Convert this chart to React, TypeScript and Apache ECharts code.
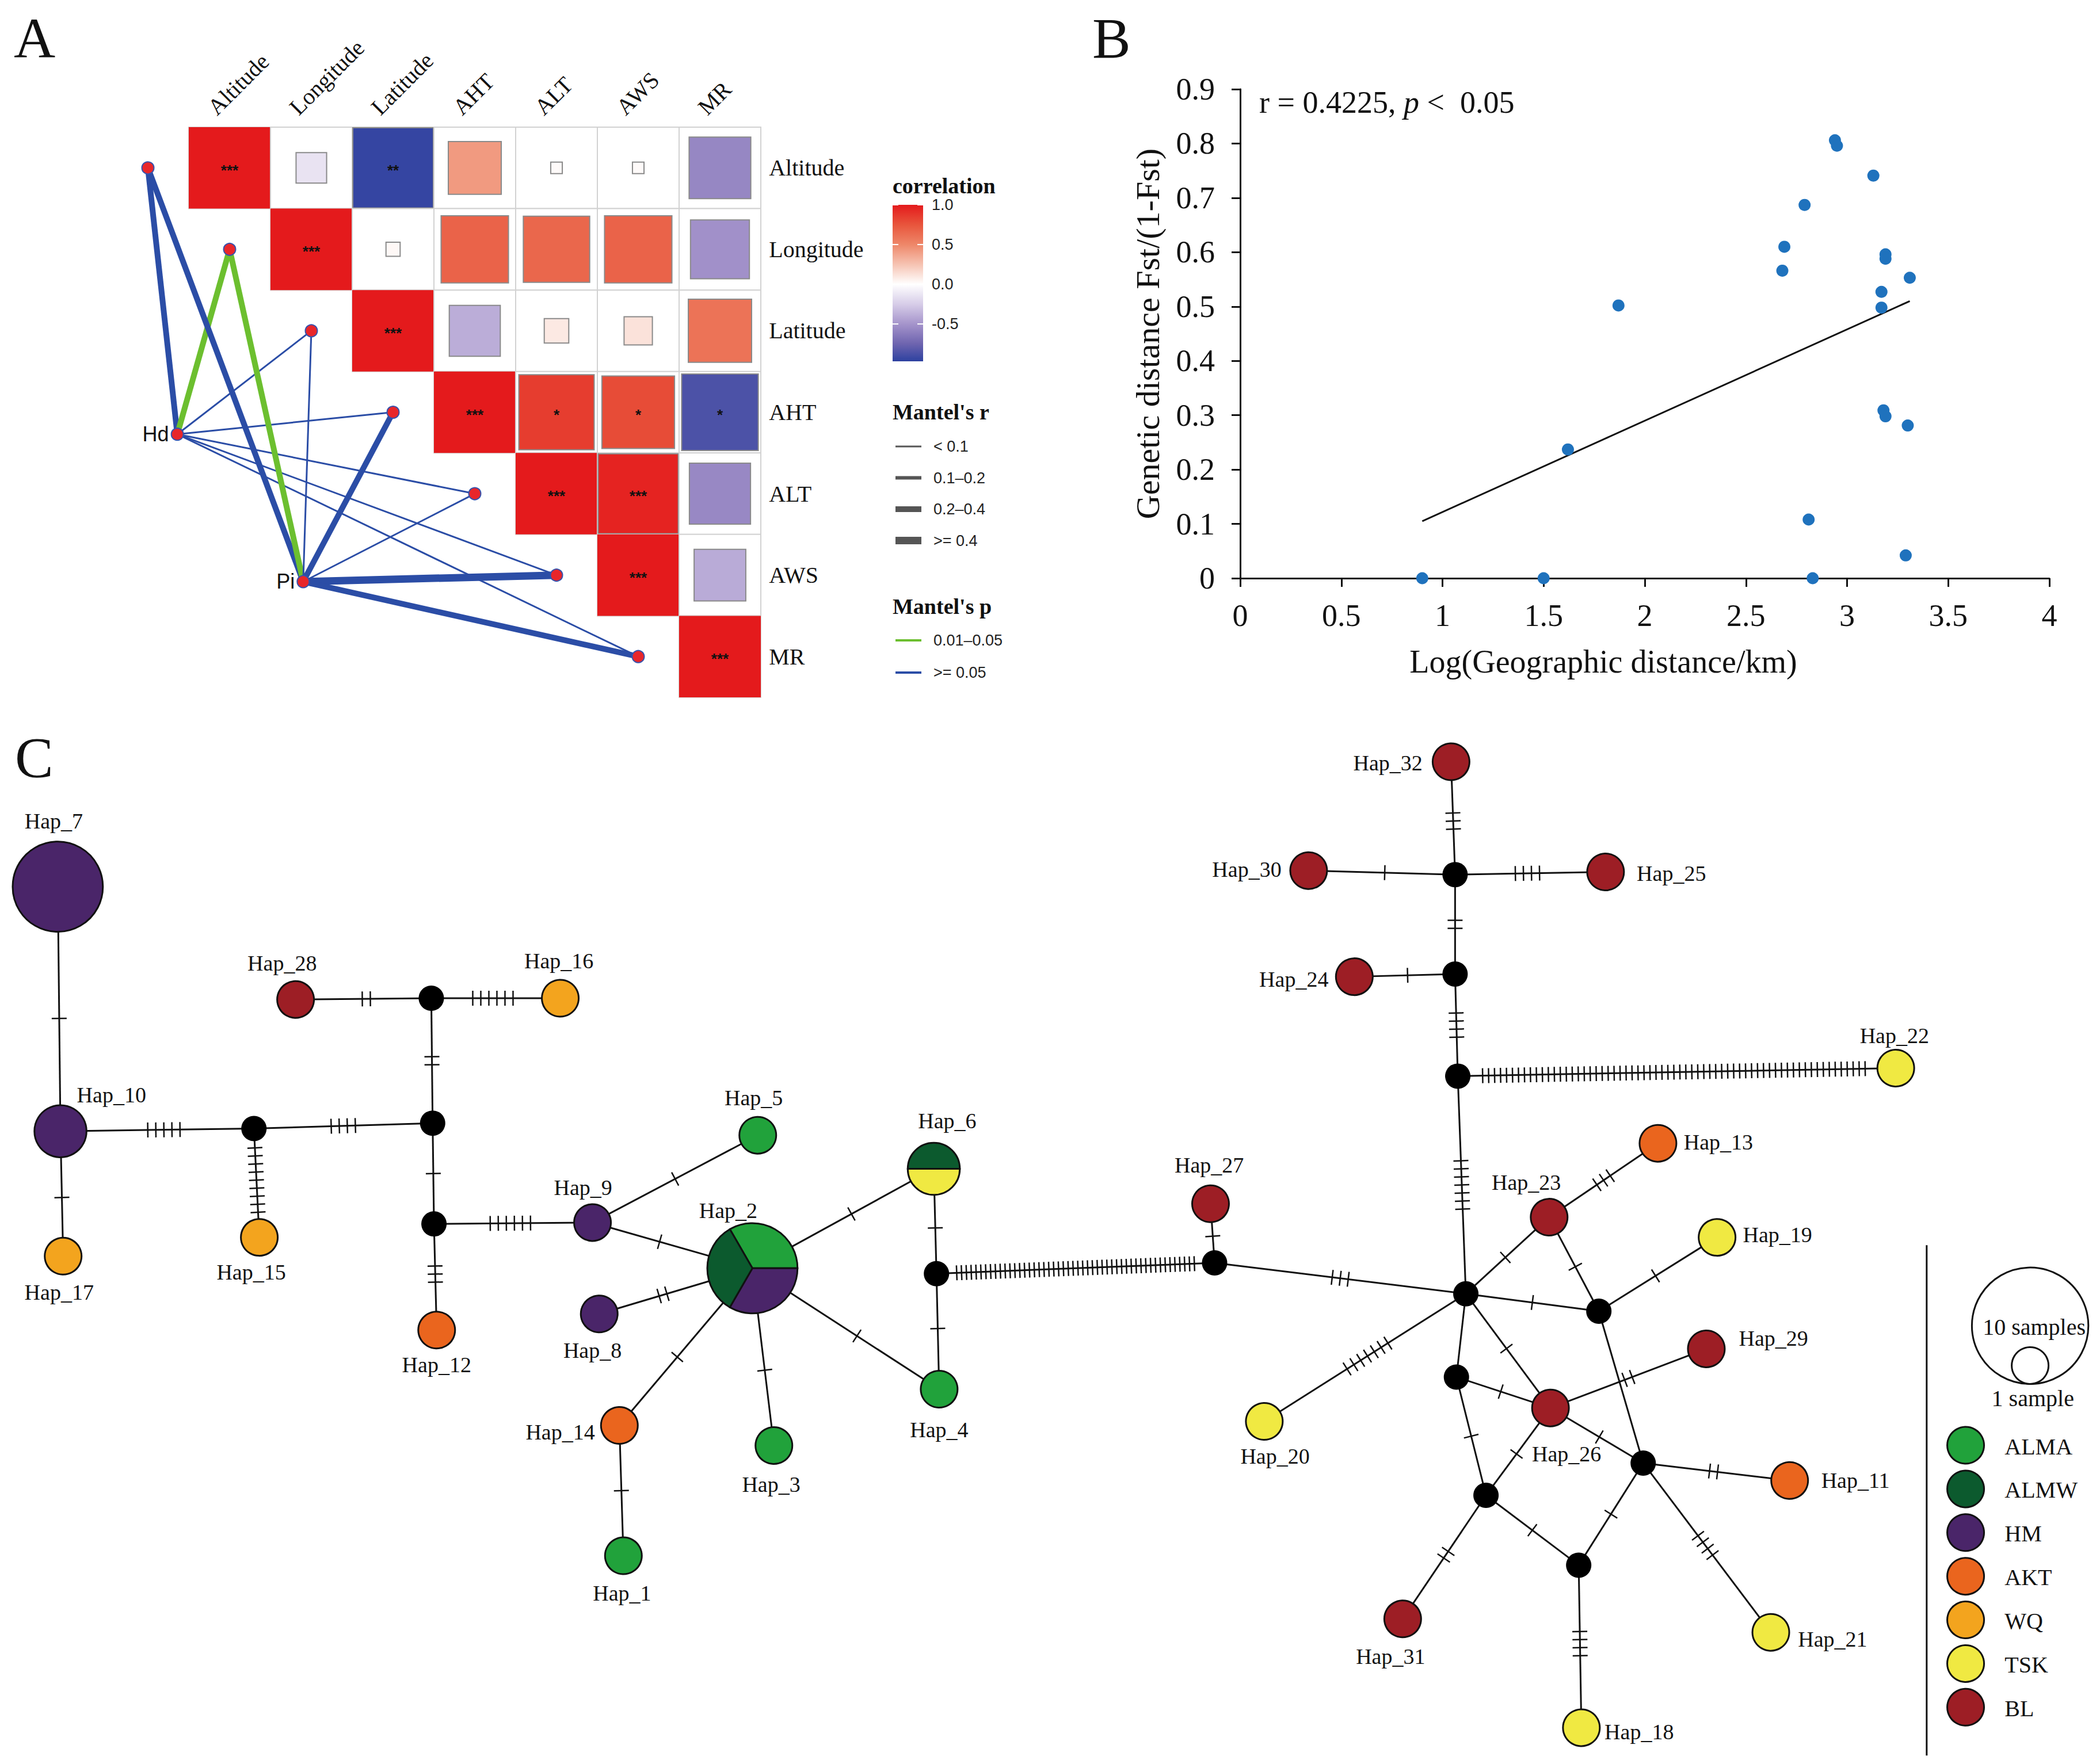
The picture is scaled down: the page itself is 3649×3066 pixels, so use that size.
import React, { useEffect, useRef } from "react";
import * as echarts from "echarts";

const W = 3649;
const H = 3066;
const K = W / 1563; // network layout unit -> px
const SERIF = "'Liberation Serif', 'Times New Roman', serif";
const SANS = "'Liberation Sans', Arial, sans-serif";

// ---------------- Panel A data ----------------
const envVars = ["Altitude", "Longitude", "Latitude", "AHT", "ALT", "AWS", "MR"];
const corrAltitude = [1.0, -0.14, -0.97, 0.42, 0.02, 0.02, -0.57];
const corrLongitude = [null, 1.0, 0.03, 0.68, 0.66, 0.68, -0.52];
const corrLatitude = [null, null, 1.0, -0.39, 0.09, 0.12, 0.6];
const corrAHT = [null, null, null, 1.0, 0.85, 0.79, -0.88];
const corrALT = [null, null, null, null, 1.0, 0.96, -0.56];
const corrAWS = [null, null, null, null, null, 1.0, -0.4];
const corrMR = [null, null, null, null, null, null, 1.0];
const sigAltitude = ["***", "", "**", "", "", "", ""];
const sigLongitude = ["", "***", "", "", "", "", ""];
const sigLatitude = ["", "", "***", "", "", "", ""];
const sigAHT = ["", "", "", "***", "*", "*", "*"];
const sigALT = ["", "", "", "", "***", "***", ""];
const sigAWS = ["", "", "", "", "", "***", ""];
const sigMR = ["", "", "", "", "", "", "***"];
const corrRows = [corrAltitude, corrLongitude, corrLatitude, corrAHT, corrALT, corrAWS, corrMR];
const sigRows = [sigAltitude, sigLongitude, sigLatitude, sigAHT, sigALT, sigAWS, sigMR];

const mantelSpecies = ["Hd", "Pi"];
const mantelSpX = [-0.14, 1.4];
const mantelSpY = [3.77, 5.58];
const mantelHdR = [0.25, 0.3, 0.05, 0.06, 0.07, 0.05, 0.05];
const mantelHdP = [0.2, 0.03, 0.5, 0.3, 0.4, 0.5, 0.6];
const mantelPiR = [0.3, 0.3, 0.05, 0.3, 0.05, 0.45, 0.28];
const mantelPiP = [0.1, 0.03, 0.5, 0.2, 0.5, 0.1, 0.1];

const corrTicks = [1.0, 0.5, 0.0, -0.5];
const corrMin = -0.97;
const corrMax = 1.0;
const mantelRLabels = ["< 0.1", "0.1\u20130.2", "0.2\u20130.4", ">= 0.4"];
const mantelPLabels = ["0.01\u20130.05", ">= 0.05"];

// ---------------- Panel B data ----------------
const geoX = [0.9, 1.5, 2.83, 1.62, 1.87, 2.68, 2.69, 2.79, 2.94, 2.95, 3.13, 3.19, 3.19, 3.17, 3.17, 3.31, 3.18, 3.19, 3.3, 2.81, 3.29];
const geoY = [0, 0, 0, 0.237, 0.502, 0.566, 0.61, 0.687, 0.806, 0.796, 0.741, 0.596, 0.588, 0.527, 0.498, 0.553, 0.309, 0.298, 0.281, 0.108, 0.042];
const fitX = [0.9, 3.31];
const fitY = [0.105, 0.51];

// ---------------- Panel C data ----------------
const popNames = ["ALMA", "ALMW", "HM", "AKT", "WQ", "TSK", "BL"];
const hapNames = Array.from({ length: 32 }, (_, i) => "Hap_" + (i + 1));
const hapX = [464, 560, 576, 699, 564, 695, 43, 446, 441, 45, 1332, 325, 1234, 461, 193, 417, 47, 1177, 1278, 941, 1318, 1411, 1153, 1008, 1195, 1154, 901, 220, 1270, 974, 1044, 1080];
const hapY = [1158, 944, 1076, 1034, 845, 870, 660, 978, 910, 842, 1102, 990, 851, 1061, 921, 743, 935, 1286, 921, 1058, 1215, 795, 906, 727, 649, 1048, 896, 744, 1004, 648, 1205, 567];
const hapPop = ["ALMA", "MIX", "ALMA", "ALMA", "ALMA", "MIX", "HM", "HM", "HM", "HM", "AKT", "AKT", "AKT", "AKT", "WQ", "WQ", "WQ", "TSK", "TSK", "TSK", "TSK", "TSK", "BL", "BL", "BL", "BL", "BL", "BL", "BL", "BL", "BL", "BL"];
const hapSamples = [1, 6, 1, 1, 1, 2, 6, 1, 1, 2, 1, 1, 1, 1, 1, 1, 1, 1, 1, 1, 1, 1, 1, 1, 1, 1, 1, 1, 1, 1, 1, 1];
const hap2Mix = [["ALMA", 2], ["HM", 2], ["ALMW", 2]];
const hap6Mix = [["ALMW", 1], ["TSK", 1]];
const medNames = ["M1", "M2", "M3", "M4", "M5", "M6", "M7", "M8", "M9", "M10", "M11", "M12", "M13", "M14", "M15"];
const medX = [189, 322, 321, 323, 697, 904, 1083, 1083, 1085, 1091, 1190, 1084, 1223, 1106, 1175];
const medY = [840, 836, 743, 911, 948, 940, 651, 725, 801, 963, 976, 1025, 1089, 1113, 1165];
const edgeFrom = ["Hap_7", "Hap_10", "Hap_10", "M1", "M1", "M2", "M3", "M3", "M2", "M4", "M4", "Hap_9", "Hap_9", "Hap_8", "Hap_14", "Hap_14", "Hap_3", "Hap_4", "Hap_6", "Hap_6", "M5", "M5", "M6", "M6", "M10", "M9", "M9", "M8", "M8", "M7", "M7", "M7", "M10", "Hap_23", "Hap_23", "M10", "M11", "M11", "M10", "M10", "M10", "M12", "M12", "Hap_26", "Hap_26", "Hap_26", "M13", "M13", "M13", "M14", "M14", "M15"];
const edgeTo = ["Hap_10", "Hap_17", "M1", "Hap_15", "M2", "M3", "Hap_28", "Hap_16", "M4", "Hap_12", "Hap_9", "Hap_5", "Hap_2", "Hap_2", "Hap_2", "Hap_1", "Hap_2", "Hap_2", "Hap_2", "M5", "Hap_4", "M6", "Hap_27", "M10", "M9", "Hap_22", "M8", "Hap_24", "M7", "Hap_30", "Hap_25", "Hap_32", "Hap_23", "Hap_13", "M11", "M11", "Hap_19", "M13", "Hap_26", "M12", "Hap_20", "Hap_26", "M14", "Hap_29", "M13", "M14", "Hap_11", "M15", "Hap_21", "M15", "Hap_31", "Hap_18"];
const edgeMut = [1, 1, 5, 9, 4, 2, 2, 6, 1, 3, 6, 1, 1, 2, 1, 1, 1, 1, 1, 1, 1, 50, 1, 3, 7, 65, 4, 1, 2, 1, 4, 3, 1, 3, 1, 1, 1, 0, 1, 0, 7, 1, 1, 2, 1, 1, 2, 1, 4, 1, 2, 4];
const legendSamples = [10, 1];

// ---------------- styles ----------------
const popColors: Record<string, string> = {
  ALMA: "#21A23B", ALMW: "#0C5A2E", HM: "#4A2569", AKT: "#EA651E", WQ: "#F3A41E", TSK: "#F0E942", BL: "#9D1E25",
};
const pieStart: Record<string, number> = { Hap_2: -120, Hap_6: -180 };
const labelOffset: Record<string, [number, number]> = {
  Hap_7: [-3, -49], Hap_10: [38, -27], Hap_17: [-3, 27], Hap_15: [-6, 26], Hap_28: [-10, -27], Hap_16: [-1, -28],
  Hap_12: [0, 26], Hap_9: [-7, -26], Hap_8: [-5, 27], Hap_5: [-3, -28], Hap_2: [-18, -43], Hap_6: [10, -36],
  Hap_14: [-44, 5], Hap_1: [-1, 28], Hap_3: [-2, 29], Hap_4: [0, 30], Hap_27: [-1, -29], Hap_32: [-47, 1],
  Hap_30: [-46, -1], Hap_25: [49, 1], Hap_24: [-45, 2], Hap_22: [-1, -24], Hap_13: [45, -1], Hap_23: [-17, -26],
  Hap_19: [45, -2], Hap_29: [50, -8], Hap_26: [12, 34], Hap_20: [8, 26], Hap_11: [49, 0], Hap_31: [-9, 28],
  Hap_21: [46, 5], Hap_18: [43, 3],
};
const R1 = 32; // px radius for one sample
const MED_R = 22;

const corrStops: [number, number[]][] = [
  [-1, [45, 65, 160]], [-0.75, [110, 100, 175]], [-0.5, [165, 148, 203]], [-0.25, [215, 205, 232]],
  [0, [255, 255, 255]], [0.25, [246, 195, 178]], [0.5, [238, 135, 105]], [0.75, [232, 85, 60]], [1, [228, 26, 28]],
];
function corrColor(v: number) {
  for (let i = 0; i < corrStops.length - 1; i++) {
    const [a, ca] = corrStops[i];
    const [b, cb] = corrStops[i + 1];
    if (v >= a && v <= b) {
      const t = (v - a) / (b - a);
      const c = ca.map((x, k) => Math.round(x + (cb[k] - x) * t));
      return `rgb(${c[0]},${c[1]},${c[2]})`;
    }
  }
  return v < 0 ? "rgb(45,65,160)" : "rgb(228,26,28)";
}
const rWidths = [3, 6, 10, 13];
const mantelWidth = (r: number) => (r < 0.1 ? rWidths[0] : r < 0.2 ? rWidths[1] : r < 0.4 ? rWidths[2] : rWidths[3]);
const mantelColor = (p: number) => (p < 0.05 ? "#6CBF2F" : "#2B4DA6");

function buildOption() {
  // ----- Panel A -----
  const heatCells: { i: number; j: number; r: number; sig: string }[] = [];
  corrRows.forEach((row, i) =>
    row.forEach((r, j) => {
      if (r !== null) heatCells.push({ i, j, r: r as number, sig: sigRows[i][j] });
    })
  );
  const mantelLinks: any[] = [];
  mantelSpecies.forEach((sp, s) => {
    const rs = s === 0 ? mantelHdR : mantelPiR;
    const ps = s === 0 ? mantelHdP : mantelPiP;
    envVars.forEach((_, i) => {
      mantelLinks.push({
        coords: [[mantelSpX[s], mantelSpY[s]], [i - 0.5, i + 0.5]],
        lineStyle: { color: mantelColor(ps[i]), width: mantelWidth(rs[i]), opacity: 1, curveness: 0 },
      });
    });
  });
  const mantelDots: any[] = envVars.map((_, i) => ({ value: [i - 0.5, i + 0.5] }));
  mantelSpecies.forEach((sp, s) =>
    mantelDots.push({
      value: [mantelSpX[s], mantelSpY[s]],
      label: { show: true, position: "left", distance: 3, formatter: sp, fontFamily: SANS, fontSize: 36, color: "#111" },
    })
  );

  // ----- Panel C -----
  const pos: Record<string, [number, number]> = {};
  const radius: Record<string, number> = {};
  hapNames.forEach((n, i) => {
    pos[n] = [hapX[i], hapY[i]];
    radius[n] = R1 * Math.sqrt(hapSamples[i]);
  });
  medNames.forEach((n, i) => {
    pos[n] = [medX[i], medY[i]];
    radius[n] = MED_R;
  });

  // ----- graphics (legends, letters, annotation) -----
  const graphics: any[] = [];
  const txt = (x: number, y: number, text: string, font: string, align = "left", vAlign = "middle", fill = "#111") => ({
    type: "text", x, y, silent: true,
    style: { text, font, fill, align, verticalAlign: vAlign, textAlign: align, textVerticalAlign: vAlign },
  });
  graphics.push(txt(24, 66, "A", `100px ${SERIF}`));
  graphics.push(txt(1898, 66, "B", `100px ${SERIF}`));
  graphics.push(txt(26, 1316, "C", `100px ${SERIF}`));

  // colorbar
  const cbX = 1551, cbY = 356, cbW = 53, cbH = 272;
  const cy = (v: number) => cbY + ((corrMax - v) / (corrMax - corrMin)) * cbH;
  graphics.push(txt(cbX, 323, "correlation", `bold 38px ${SERIF}`));
  graphics.push({
    type: "rect", shape: { x: cbX, y: cbY, width: cbW, height: cbH }, silent: true,
    style: {
      fill: new echarts.graphic.LinearGradient(0, 0, 0, 1,
        corrStops.filter((s) => s[0] >= corrMin - 0.03).map((s) => ({
          offset: Math.max(0, Math.min(1, (corrMax - s[0]) / (corrMax - corrMin))),
          color: `rgb(${s[1][0]},${s[1][1]},${s[1][2]})`,
        })).sort((a, b) => a.offset - b.offset)),
    },
  });
  corrTicks.forEach((v) => {
    const y = cy(v);
    graphics.push({ type: "line", shape: { x1: cbX, y1: y, x2: cbX + 10, y2: y }, style: { stroke: "#fff", lineWidth: 2 }, silent: true });
    graphics.push({ type: "line", shape: { x1: cbX + cbW - 10, y1: y, x2: cbX + cbW, y2: y }, style: { stroke: "#fff", lineWidth: 2 }, silent: true });
    graphics.push(txt(cbX + 68, y, v.toFixed(1), `27px ${SANS}`, "left", "middle", "#222"));
  });
  // Mantel's r
  graphics.push(txt(cbX, 716, "Mantel's r", `bold 38px ${SERIF}`));
  mantelRLabels.forEach((lab, k) => {
    const y = 776 + k * 54.5;
    graphics.push({ type: "line", shape: { x1: cbX + 5, y1: y, x2: cbX + 50, y2: y }, style: { stroke: "#555", lineWidth: rWidths[k] }, silent: true });
    graphics.push(txt(cbX + 71, y, lab, `27px ${SANS}`, "left", "middle", "#222"));
  });
  graphics.push(txt(cbX, 1054, "Mantel's p", `bold 38px ${SERIF}`));
  const pCols = ["#6CBF2F", "#2B4DA6"];
  mantelPLabels.forEach((lab, k) => {
    const y = 1113 + k * 56;
    graphics.push({ type: "line", shape: { x1: cbX + 5, y1: y, x2: cbX + 50, y2: y }, style: { stroke: pCols[k], lineWidth: 4 }, silent: true });
    graphics.push(txt(cbX + 71, y, lab, `27px ${SANS}`, "left", "middle", "#222"));
  });

  // Panel B annotation & x-axis title
  graphics.push({
    type: "text", x: 2188, y: 178, silent: true,
    style: {
      text: "{a|r = 0.4225, }{b|p}{a| <  0.05}", verticalAlign: "middle", textVerticalAlign: "middle",
      rich: {
        a: { fontFamily: SERIF, fontSize: 54, fill: "#111", color: "#111" },
        b: { fontFamily: SERIF, fontSize: 54, fontStyle: "italic", fill: "#111", color: "#111" },
      },
    },
  });
  graphics.push(txt(2786, 1150, "Log(Geographic distance/km)", `56px ${SERIF}`, "center", "middle"));

  // Panel C legend
  graphics.push({ type: "line", shape: { x1: 1434 * K, y1: 927 * K, x2: 1434 * K, y2: 1307 * K }, style: { stroke: "#111", lineWidth: 3 }, silent: true });
  const bigR = R1 * Math.sqrt(legendSamples[0]);
  const smallR = R1 * Math.sqrt(legendSamples[1]);
  const lcx = 1511 * K;
  const bigCy = 987 * K;
  graphics.push({ type: "circle", shape: { cx: lcx, cy: bigCy, r: bigR }, style: { fill: "#fff", stroke: "#111", lineWidth: 3 }, silent: true });
  graphics.push({ type: "circle", shape: { cx: lcx, cy: bigCy + bigR - smallR, r: smallR }, style: { fill: "#fff", stroke: "#111", lineWidth: 3 }, silent: true });
  graphics.push(txt(1514 * K, 988 * K, legendSamples[0] + " samples", `40px ${SERIF}`, "center"));
  graphics.push(txt(1513 * K, 1041 * K, legendSamples[1] + " sample", `40px ${SERIF}`, "center"));
  popNames.forEach((p, k) => {
    const y = (1076 + k * 32.5) * K;
    graphics.push({ type: "circle", shape: { cx: 1463 * K, cy: y, r: R1 }, style: { fill: popColors[p], stroke: "#111", lineWidth: 3 }, silent: true });
    graphics.push(txt(1492 * K, y + 2, p, `40px ${SERIF}`));
  });

  const hiddenX = (gridIndex: number, min: number, max: number) => ({ type: "value", gridIndex, min, max, show: false });
  const hiddenY = (gridIndex: number, min: number, max: number) => ({ type: "value", gridIndex, min, max, show: false, inverse: true });

  const axisStyleB = {
    axisLine: { show: true, onZero: false, lineStyle: { color: "#111", width: 3 } },
    axisTick: { show: true, inside: false, length: 15, lineStyle: { color: "#111", width: 3 } },
    splitLine: { show: false },
  };

  return {
    animation: false,
    backgroundColor: "#fff",
    grid: [
      { left: 44, top: 221, width: 1278, height: 991 },
      { left: 2155, top: 155, width: 1406, height: 850 },
      { left: 0, top: 0, width: W, height: H },
    ],
    xAxis: [
      hiddenX(0, -2, 7),
      {
        type: "value", gridIndex: 1, min: 0, max: 4, interval: 0.5, ...axisStyleB,
        axisLabel: { margin: 38, fontFamily: SERIF, fontSize: 54, color: "#111", formatter: (v: number) => String(parseFloat(v.toFixed(1))) },
      },
      hiddenX(2, 0, 1563),
    ],
    yAxis: [
      hiddenY(0, 0, 7),
      {
        type: "value", gridIndex: 1, min: 0, max: 0.9, interval: 0.1, ...axisStyleB,
        axisLabel: { margin: 44, fontFamily: SERIF, fontSize: 54, color: "#111", formatter: (v: number) => String(parseFloat(v.toFixed(1))) },
        name: "Genetic distance Fst/(1-Fst)", nameLocation: "middle", nameGap: 132,
        nameTextStyle: { fontFamily: SERIF, fontSize: 58, color: "#111" },
      },
      hiddenY(2, 0, 1313),
    ],
    graphic: { elements: graphics },
    series: [
      // ----- A: heatmap cells -----
      {
        type: "custom", xAxisIndex: 0, yAxisIndex: 0, clip: false, z: 2, silent: true,
        data: heatCells.map((c) => [c.j, c.i, c.r]),
        renderItem: (params: any, api: any) => {
          const c = heatCells[params.dataIndex];
          const a = api.coord([c.j, c.i]);
          const b = api.coord([c.j + 1, c.i + 1]);
          const x0 = a[0], y0 = a[1], w = b[0] - a[0], h = b[1] - a[1];
          const f = Math.sqrt(Math.abs(c.r));
          const sw = w * f, sh = h * f;
          const children: any[] = [
            { type: "rect", shape: { x: x0, y: y0, width: w, height: h }, style: { fill: "#fff", stroke: "#d2d2d2", lineWidth: 2 } },
            {
              type: "rect", shape: { x: x0 + (w - sw) / 2, y: y0 + (h - sh) / 2, width: sw, height: sh },
              style: { fill: corrColor(c.r), stroke: Math.abs(c.r) >= 1 ? null : "#8a8a8a", lineWidth: 2 },
            },
          ];
          if (c.sig) {
            children.push({ type: "text", x: x0 + w / 2, y: y0 + h / 2 + 4, style: { text: c.sig, font: `bold 26px ${SANS}`, fill: "#111", align: "center", verticalAlign: "middle" } });
          }
          if (c.i === c.j) {
            const rl = api.coord([7.1, c.i + 0.5]);
            children.push({ type: "text", x: rl[0], y: rl[1], style: { text: envVars[c.i], font: `40px ${SERIF}`, fill: "#111", align: "left", verticalAlign: "middle" } });
            const cl = api.coord([c.i + 0.38, -0.1]);
            children.push({ type: "text", x: cl[0], y: cl[1], rotation: Math.PI / 4, style: { text: envVars[c.i], font: `40px ${SERIF}`, fill: "#111", align: "left", verticalAlign: "bottom" } });
          }
          return { type: "group", children };
        },
      },
      // ----- A: Mantel links -----
      {
        type: "lines", coordinateSystem: "cartesian2d", xAxisIndex: 0, yAxisIndex: 0, z: 3, silent: true,
        polyline: false, lineStyle: { opacity: 1 }, data: mantelLinks,
      },
      {
        type: "scatter", xAxisIndex: 0, yAxisIndex: 0, z: 4, silent: true, symbolSize: 21,
        itemStyle: { color: "#E8262A", borderColor: "#3553AE", borderWidth: 2, opacity: 1 },
        data: mantelDots,
      },
      // ----- B -----
      {
        type: "scatter", xAxisIndex: 1, yAxisIndex: 1, symbolSize: 21, z: 4,
        itemStyle: { color: "#1f72bd", opacity: 1 },
        data: geoX.map((x, i) => [x, geoY[i]]),
      },
      {
        type: "line", xAxisIndex: 1, yAxisIndex: 1, showSymbol: false, symbol: "none", z: 3,
        lineStyle: { color: "#111", width: 3 },
        data: fitX.map((x, i) => [x, fitY[i]]),
      },
      // ----- C: edges with mutation ticks -----
      {
        type: "custom", xAxisIndex: 2, yAxisIndex: 2, clip: false, z: 2, silent: true,
        data: edgeFrom.map((f, i) => [pos[f][0], pos[f][1], pos[edgeTo[i]][0], pos[edgeTo[i]][1], edgeMut[i]]),
        renderItem: (params: any, api: any) => {
          const i = params.dataIndex;
          const a = api.coord([api.value(0), api.value(1)]);
          const b = api.coord([api.value(2), api.value(3)]);
          const n = edgeMut[i];
          const dx = b[0] - a[0], dy = b[1] - a[1];
          const len = Math.hypot(dx, dy);
          const ux = dx / len, uy = dy / len;
          const px = -uy, py = ux;
          const ra = radius[edgeFrom[i]], rb = radius[edgeTo[i]];
          const usable = len - ra - rb;
          const mid = ra + usable / 2;
          const children: any[] = [
            { type: "line", shape: { x1: a[0], y1: a[1], x2: b[0], y2: b[1] }, style: { stroke: "#111", lineWidth: 3 } },
          ];
          let sp = 14;
          if (n > 1) sp = Math.min(14, (usable * 0.94) / (n - 1));
          const hl = 13;
          for (let k = 0; k < n; k++) {
            const t = mid + (k - (n - 1) / 2) * sp;
            const cx = a[0] + ux * t, cy2 = a[1] + uy * t;
            children.push({
              type: "line",
              shape: { x1: cx - px * hl, y1: cy2 - py * hl, x2: cx + px * hl, y2: cy2 + py * hl },
              style: { stroke: "#111", lineWidth: 2.5 },
            });
          }
          return { type: "group", children };
        },
      },
      // ----- C: median vectors -----
      {
        type: "scatter", xAxisIndex: 2, yAxisIndex: 2, symbolSize: MED_R * 2, z: 3, silent: true,
        itemStyle: { color: "#000", opacity: 1 },
        data: medX.map((x, i) => [x, medY[i]]),
      },
      // ----- C: haplotypes -----
      {
        type: "custom", xAxisIndex: 2, yAxisIndex: 2, clip: false, z: 4, silent: true,
        data: hapX.map((x, i) => [x, hapY[i], hapSamples[i]]),
        renderItem: (params: any, api: any) => {
          const i = params.dataIndex;
          const name = hapNames[i];
          const c = api.coord([api.value(0), api.value(1)]);
          const r = R1 * Math.sqrt(api.value(2));
          const children: any[] = [];
          if (hapPop[i] === "MIX") {
            const mix = name === "Hap_2" ? hap2Mix : hap6Mix;
            const total = mix.reduce((s, m) => s + (m[1] as number), 0);
            let ang = ((pieStart[name] || 0) * Math.PI) / 180;
            mix.forEach((m) => {
              const span = ((m[1] as number) / total) * Math.PI * 2;
              children.push({
                type: "sector",
                shape: { cx: c[0], cy: c[1], r, r0: 0, startAngle: ang, endAngle: ang + span, clockwise: true },
                style: { fill: popColors[m[0] as string], stroke: "#111", lineWidth: 3 },
              });
              ang += span;
            });
          } else {
            children.push({ type: "circle", shape: { cx: c[0], cy: c[1], r }, style: { fill: popColors[hapPop[i]], stroke: "#111", lineWidth: 3 } });
          }
          const off = labelOffset[name] || [0, -30];
          children.push({
            type: "text", x: c[0] + off[0] * K, y: c[1] + off[1] * K,
            style: { text: name, font: `38px ${SERIF}`, fill: "#111", align: "center", verticalAlign: "middle" },
          });
          return { type: "group", children };
        },
      },
    ],
  };
}

export default function App() {
  const ref = useRef<HTMLDivElement>(null);
  useEffect(() => {
    document.body.style.margin = "0";
    const chart = echarts.init(ref.current as HTMLDivElement, null, { renderer: "svg", width: W, height: H });
    chart.setOption(buildOption() as any);
    return () => chart.dispose();
  }, []);
  return <div ref={ref} style={{ position: "absolute", left: 0, top: 0, width: W, height: H, background: "#fff" }} />;
}
